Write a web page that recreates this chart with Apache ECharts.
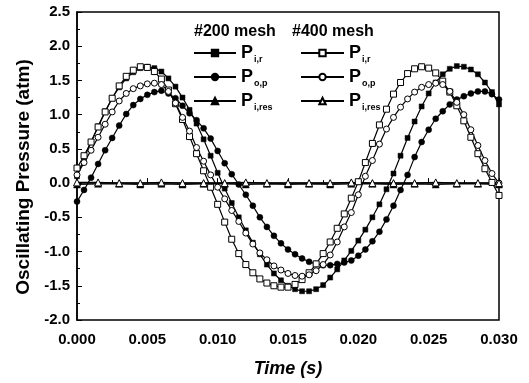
<!DOCTYPE html>
<html>
<head>
<meta charset="utf-8">
<script src="https://cdn.jsdelivr.net/npm/echarts@6/dist/echarts.min.js"></script>
<style>
  html, body { margin: 0; padding: 0; background: #fff; }
  #chart { width: 529px; height: 383px; }
</style>
</head>
<body>
<div id="chart"></div>
<script>
// samples every 0.0005 s, 0 .. 0.030
const pir200 = [0.10, 0.36, 0.60, 0.83, 1.05, 1.24, 1.40, 1.53, 1.62, 1.68,
  1.70, 1.68, 1.63, 1.53, 1.41, 1.25, 1.07, 0.87, 0.64, 0.40,
  0.15, -0.08, -0.29, -0.50, -0.69, -0.87, -1.04, -1.19, -1.32, -1.42,
  -1.50, -1.55, -1.58, -1.58, -1.55, -1.49, -1.38, -1.26, -1.13, -0.99,
  -0.84, -0.68, -0.50, -0.31, -0.09, 0.14, 0.40, 0.66, 0.90, 1.12,
  1.31, 1.47, 1.59, 1.67, 1.71, 1.70, 1.66, 1.59, 1.47, 1.33, 1.15];
const pop200 = [-0.27, -0.10, 0.08, 0.28, 0.48, 0.66, 0.84, 1.01, 1.14, 1.23,
  1.29, 1.33, 1.35, 1.31, 1.24, 1.13, 1.02, 0.92, 0.80, 0.65,
  0.47, 0.29, 0.13, -0.02, -0.17, -0.33, -0.50, -0.64, -0.77, -0.88,
  -0.97, -1.04, -1.10, -1.15, -1.18, -1.20, -1.20, -1.18, -1.16, -1.13,
  -1.06, -0.97, -0.85, -0.71, -0.53, -0.33, -0.10, 0.12, 0.38, 0.60,
  0.78, 0.94, 1.05, 1.15, 1.22, 1.27, 1.31, 1.34, 1.34, 1.30, 1.22];
const pir400 = [0.22, 0.40, 0.60, 0.82, 1.04, 1.24, 1.42, 1.56, 1.65, 1.70,
  1.69, 1.63, 1.52, 1.36, 1.16, 0.93, 0.68, 0.43, 0.18, -0.06,
  -0.31, -0.57, -0.82, -1.03, -1.19, -1.31, -1.40, -1.46, -1.50, -1.52,
  -1.52, -1.48, -1.41, -1.31, -1.18, -1.03, -0.86, -0.66, -0.45, -0.22,
  0.02, 0.30, 0.58, 0.85, 1.08, 1.30, 1.47, 1.60, 1.67, 1.70,
  1.68, 1.61, 1.49, 1.33, 1.13, 0.91, 0.67, 0.43, 0.21, 0.01, -0.18];
const pop400 = [0.12, 0.30, 0.48, 0.67, 0.86, 1.04, 1.20, 1.31, 1.38, 1.42,
  1.45, 1.46, 1.44, 1.34, 1.17, 0.96, 0.76, 0.52, 0.32, 0.12,
  -0.06, -0.23, -0.40, -0.56, -0.73, -0.89, -1.02, -1.12, -1.21, -1.27,
  -1.32, -1.35, -1.36, -1.34, -1.28, -1.19, -1.05, -0.86, -0.64, -0.43,
  -0.17, 0.10, 0.33, 0.57, 0.79, 0.96, 1.11, 1.23, 1.33, 1.40,
  1.44, 1.46, 1.44, 1.34, 1.18, 1.00, 0.78, 0.55, 0.33, 0.14, 0.00];
// residual pressure, samples every 0.0015 s
const pres200 = [-0.02, -0.01, -0.01, -0.02, -0.01, -0.02, -0.01, -0.01, -0.02, -0.01,
  -0.02, -0.01, -0.02, -0.01, -0.01, -0.02, -0.01, -0.02, -0.01, -0.01, -0.02];
const pres400 = [0.01, 0.01, 0.00, 0.00, 0.01, 0.00, 0.00, 0.00, 0.01, 0.00,
  0.00, 0.00, 0.00, 0.01, 0.00, 0.00, 0.00, 0.01, 0.00, 0.00, 0.00];

const subs = {
  "Pir200": "i,r", "Pop200": "o,p", "Pres200": "i,res",
  "Pir400": "i,r", "Pop400": "o,p", "Pres400": "i,res"
};

const pairs = (arr, step) => arr.map((v, i) => [+(i * step).toFixed(4), v]);

const chart = echarts.init(document.getElementById("chart"));

function mk(name, data, step, symbol, size, filled) {
  return {
    name: name,
    type: "line",
    data: pairs(data, step),
    symbol: symbol,
    symbolSize: size,
    showAllSymbol: true,
    lineStyle: { color: "#000", width: 1.2 },
    itemStyle: filled
      ? { color: "#000", borderColor: "#000", borderWidth: 0.5 }
      : { color: "#fff", borderColor: "#000", borderWidth: 1 },
    emphasis: { disabled: true }
  };
}

const fontFamily = "Liberation Sans, Arial, sans-serif";
const legendText = {
  fontFamily: fontFamily,
  rich: {
    p: { fontSize: 18, fontWeight: "bold", fontFamily: fontFamily, color: "#000" },
    s: { fontSize: 9, fontWeight: "bold", fontFamily: fontFamily, color: "#000", padding: [13, 0, 0, 1] }
  }
};

chart.setOption({
  animation: false,
  grid: { left: 77, right: 30, top: 12, bottom: 57, show: true, borderColor: "#000", borderWidth: 1.5 },
  xAxis: {
    type: "value",
    min: 0, max: 0.03, interval: 0.005,
    name: "Time (s)",
    nameLocation: "middle",
    nameGap: 40,
    nameTextStyle: { fontSize: 18, fontWeight: "bold", fontStyle: "italic", fontFamily: fontFamily, color: "#000" },
    axisLine: { lineStyle: { color: "#000", width: 1.5 } },
    axisTick: { inside: true, length: 5, lineStyle: { color: "#000", width: 1 } },
    minorTick: { show: true, splitNumber: 2, length: 3, lineStyle: { color: "#000", width: 1 } },
    splitLine: { show: false },
    axisLabel: { fontSize: 15, fontWeight: "bold", fontFamily: fontFamily, color: "#000", margin: 12,
      formatter: v => v.toFixed(3) }
  },
  yAxis: {
    type: "value",
    min: -2, max: 2.5, interval: 0.5,
    axisLine: { show: true, lineStyle: { color: "#000", width: 1.5 } },
    axisTick: { show: true, inside: true, length: 5, lineStyle: { color: "#000", width: 1 } },
    minorTick: { show: true, splitNumber: 2, length: 3, lineStyle: { color: "#000", width: 1 } },
    splitLine: { show: false },
    axisLabel: { fontSize: 15, fontWeight: "bold", fontFamily: fontFamily, color: "#000", margin: 7,
      formatter: v => v.toFixed(1) }
  },
  legend: [
    {
      data: ["Pir200", "Pop200", "Pres200"],
      orient: "vertical",
      left: 193, top: 44, padding: 0,
      itemWidth: 42, itemHeight: 8, itemGap: 4,
      selectedMode: false,
      textStyle: legendText,
      formatter: n => "{p|P}{s|" + subs[n] + "}"
    },
    {
      data: ["Pir400", "Pop400", "Pres400"],
      orient: "vertical",
      left: 300, top: 44, padding: 0,
      itemWidth: 43, itemHeight: 8, itemGap: 4,
      selectedMode: false,
      textStyle: legendText,
      formatter: n => "{p|P}{s|" + subs[n] + "}"
    }
  ],
  graphic: [
    { type: "text", left: 194, top: 24, style: { text: "#200 mesh", font: "bold 16px " + fontFamily, fill: "#000" } },
    { type: "text", left: 292, top: 24, style: { text: "#400 mesh", font: "bold 16px " + fontFamily, fill: "#000" } },
    { type: "text", x: 24, y: 177, rotation: Math.PI / 2,
      style: { text: "Oscillating Pressure (atm)", font: "bold 19px " + fontFamily, fill: "#000",
        align: "center", verticalAlign: "middle" } }
  ],
  series: [
    mk("Pir200", pir200, 0.0005, "rect", 5, true),
    mk("Pop200", pop200, 0.0005, "circle", 6, true),
    mk("Pres200", pres200, 0.0015, "triangle", 7, true),
    mk("Pir400", pir400, 0.0005, "rect", 6, false),
    mk("Pop400", pop400, 0.0005, "circle", 6, false),
    mk("Pres400", pres400, 0.0015, "triangle", 7, false)
  ]
});
</script>
</body>
</html>
